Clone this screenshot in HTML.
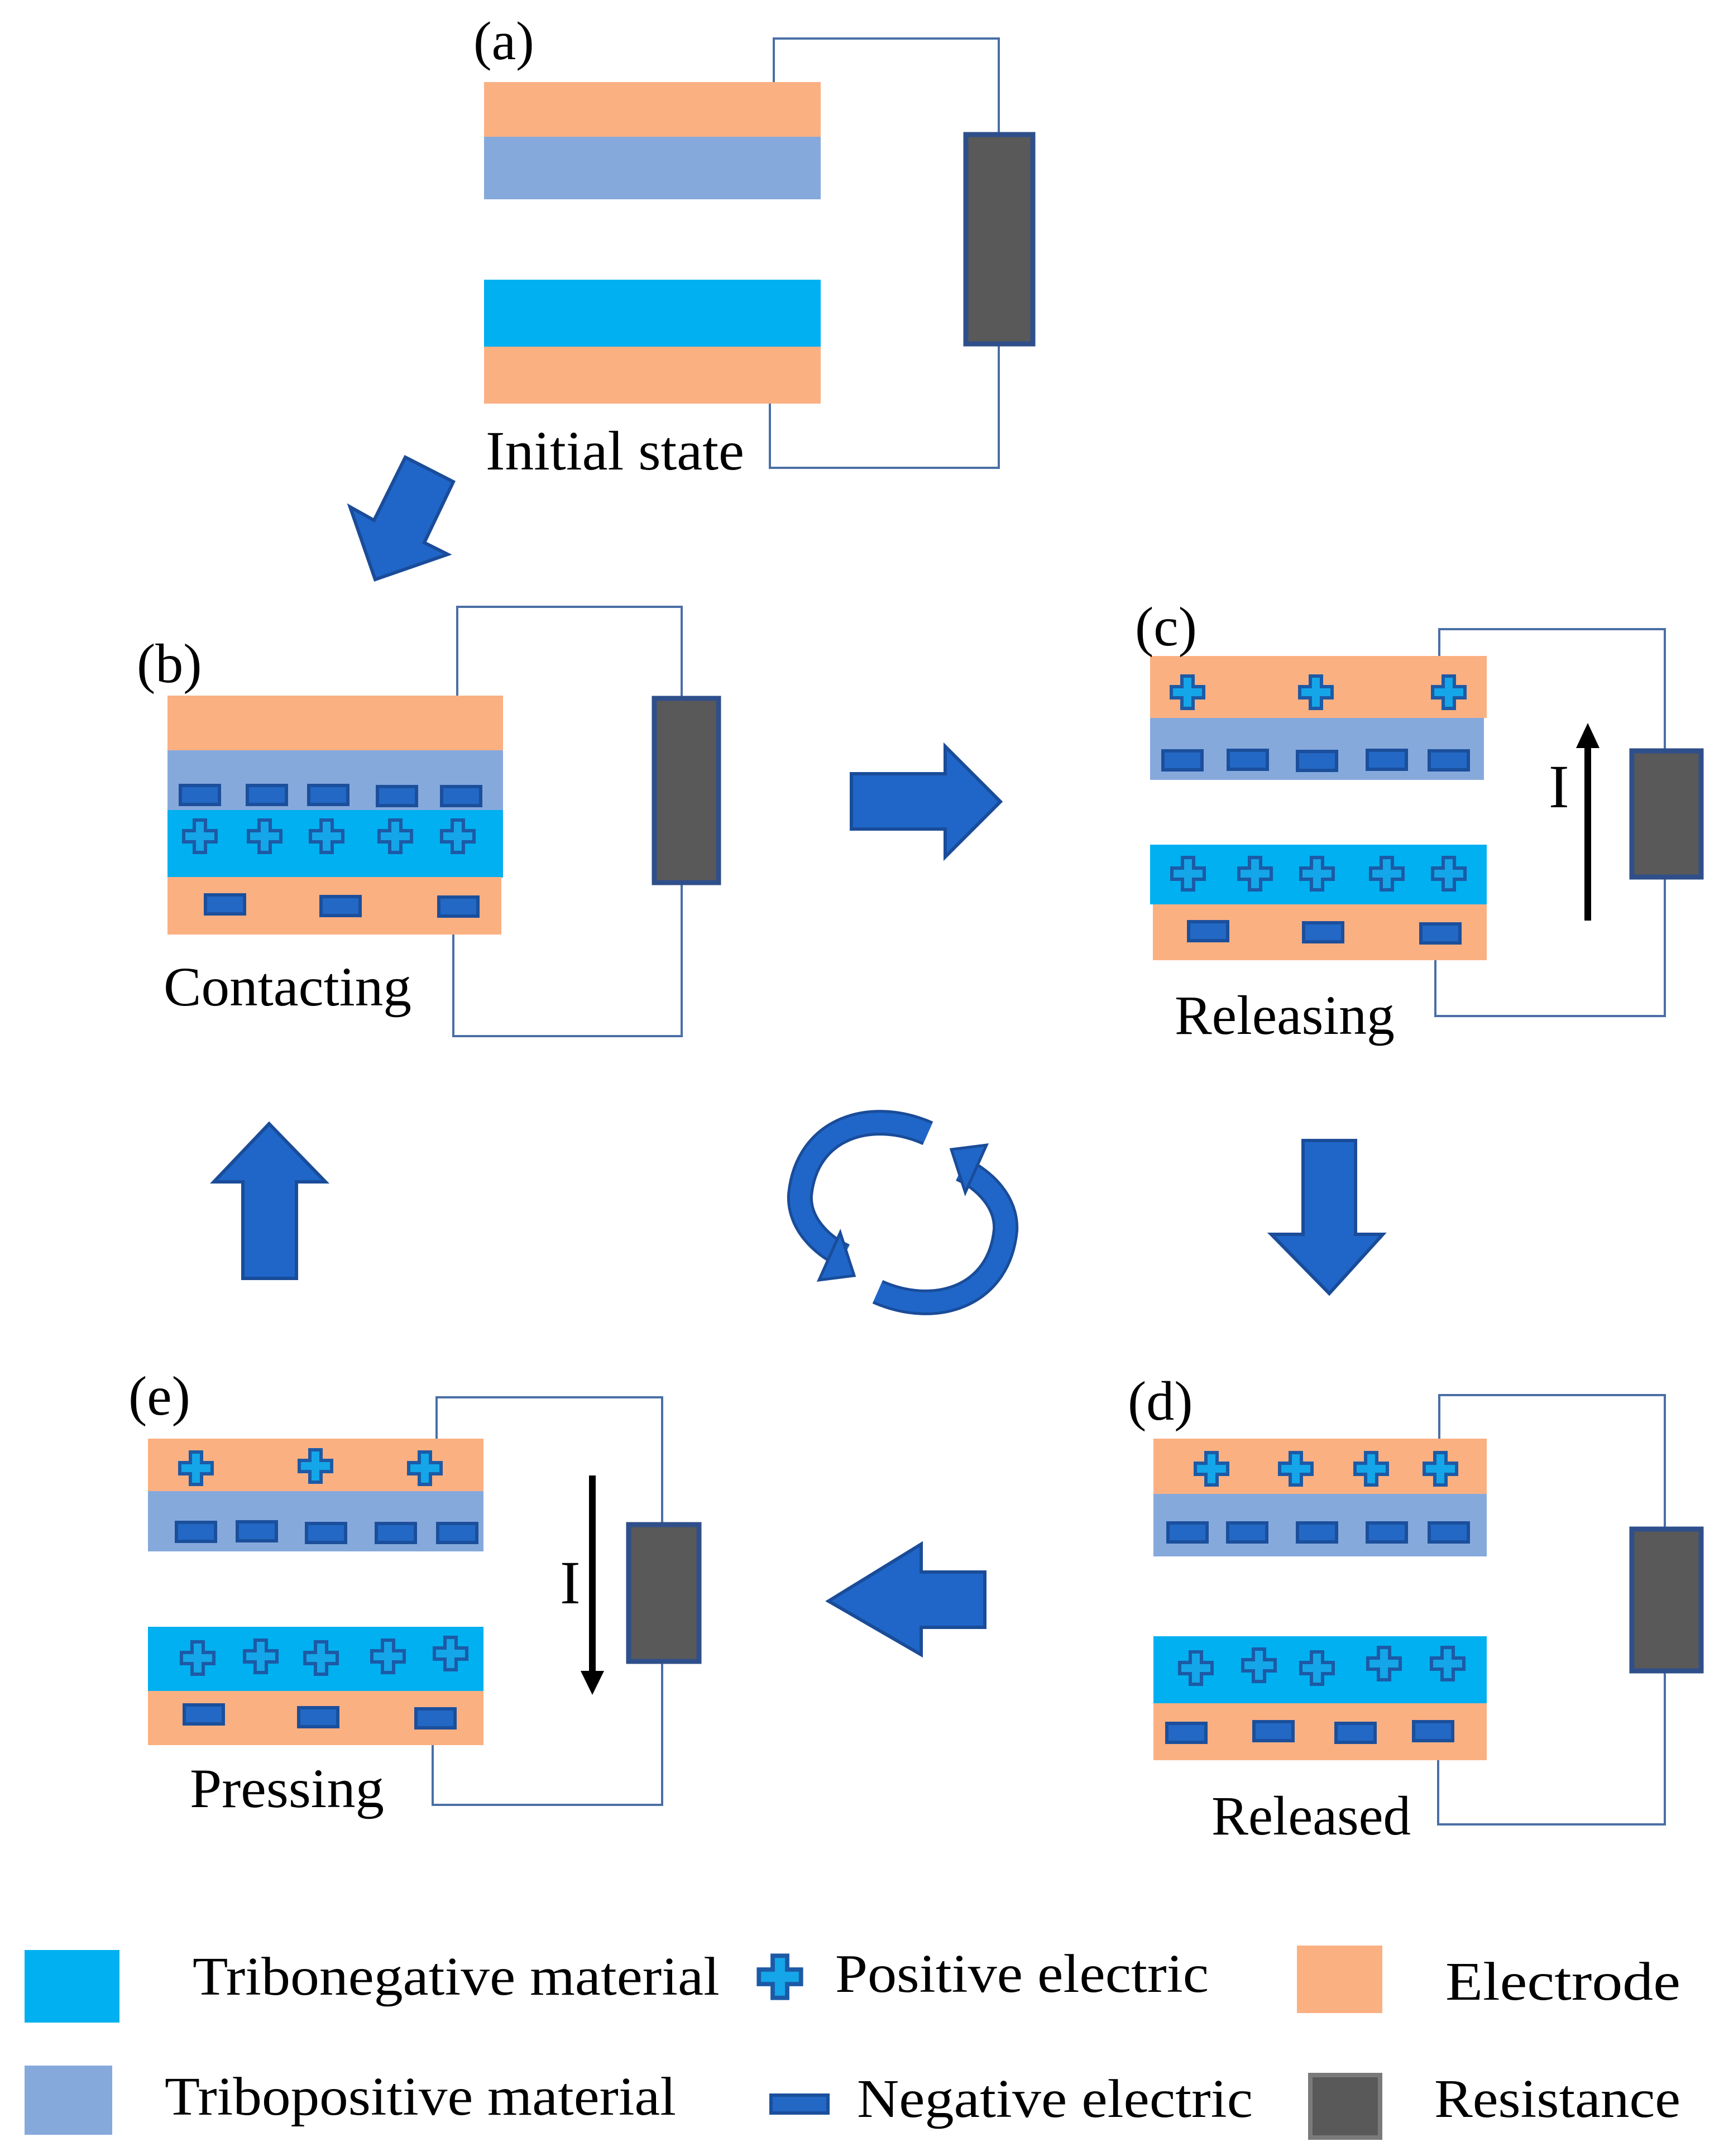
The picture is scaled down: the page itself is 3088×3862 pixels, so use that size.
<!DOCTYPE html>
<html><head><meta charset="utf-8"><style>
html,body{margin:0;padding:0;background:#fff}
svg{display:block}
text{font-family:"Liberation Serif",serif;fill:#000}
</style></head><body>
<svg width="3088" height="3862" viewBox="0 0 3088 3862" xmlns="http://www.w3.org/2000/svg">
<defs>
<g id="p"><path d="M-10,-29 H10 V-10 H29 V10 H10 V29 H-10 V10 H-29 V-10 H-10 Z" fill="#14a6e8" stroke="#1c5aa6" stroke-width="6"/></g>
<g id="m"><rect x="-35" y="-17" width="70" height="34" fill="#2368c4" stroke="#1b4f9c" stroke-width="6"/></g>
</defs>
<rect width="3088" height="3862" fill="#fff"/>
<g fill="none" stroke="#4a6fa5" stroke-width="4">
<polyline points="1386,147 1386,69 1789,69 1789,237"/>
<polyline points="1379,723 1379,838 1789,838 1789,620"/>
<polyline points="819,1246 819,1087 1221,1087 1221,1247"/>
<polyline points="812,1674 812,1856 1221,1856 1221,1585"/>
<polyline points="2578,1175 2578,1127 2982,1127 2982,1341"/>
<polyline points="2571,1720 2571,1820 2982,1820 2982,1575"/>
<polyline points="2578,2577 2578,2499 2982,2499 2982,2735"/>
<polyline points="2576,3153 2576,3268 2982,3268 2982,2997"/>
<polyline points="782,2577 782,2503 1186,2503 1186,2727"/>
<polyline points="775,3126 775,3233 1186,3233 1186,2980"/>
</g>
<g fill="#595959" stroke="#2f4f8a" stroke-width="9">
<rect x="1730" y="241" width="120" height="375"/>
<rect x="1172" y="1251" width="115" height="330"/>
<rect x="2923" y="1345" width="124" height="226"/>
<rect x="2923" y="2739" width="124" height="254"/>
<rect x="1126" y="2731" width="126" height="245"/>
</g>
<!-- panel a -->
<rect x="867" y="147" width="603" height="99" fill="#fbb082"/>
<rect x="867" y="245" width="603" height="112" fill="#86a9dc"/>
<rect x="867" y="501" width="603" height="120" fill="#00b0f0"/>
<rect x="867" y="621" width="603" height="102" fill="#fbb082"/>
<text x="848" y="106" font-size="98">(a)</text>
<text x="870" y="841" font-size="100" textLength="463" lengthAdjust="spacingAndGlyphs">Initial  state</text>
<!-- panel b -->
<rect x="300" y="1246" width="601" height="98" fill="#fbb082"/>
<rect x="300" y="1344" width="601" height="107" fill="#86a9dc"/>
<rect x="300" y="1451" width="601" height="121" fill="#00b0f0"/>
<rect x="300" y="1571" width="598" height="103" fill="#fbb082"/>
<use href="#m" x="358" y="1424"/><use href="#m" x="478" y="1424"/><use href="#m" x="588" y="1424"/><use href="#m" x="711" y="1426"/><use href="#m" x="826" y="1426"/>
<use href="#p" x="358" y="1498"/><use href="#p" x="474" y="1498"/><use href="#p" x="585" y="1498"/><use href="#p" x="708" y="1498"/><use href="#p" x="820" y="1498"/>
<use href="#m" x="403" y="1620"/><use href="#m" x="610" y="1623"/><use href="#m" x="821" y="1624"/>
<text x="245" y="1222" font-size="100">(b)</text>
<text x="293" y="1801" font-size="100" textLength="444" lengthAdjust="spacingAndGlyphs">Contacting</text>
<!-- panel c -->
<rect x="2060" y="1175" width="603" height="111" fill="#fbb082"/>
<rect x="2060" y="1286" width="598" height="111" fill="#86a9dc"/>
<rect x="2060" y="1513" width="603" height="107" fill="#00b0f0"/>
<rect x="2065" y="1620" width="598" height="100" fill="#fbb082"/>
<use href="#p" x="2127" y="1240"/><use href="#p" x="2357" y="1240"/><use href="#p" x="2595" y="1240"/>
<use href="#m" x="2118" y="1362"/><use href="#m" x="2235" y="1361"/><use href="#m" x="2359" y="1363"/><use href="#m" x="2484" y="1361"/><use href="#m" x="2595" y="1362"/>
<use href="#p" x="2128" y="1565"/><use href="#p" x="2248" y="1565"/><use href="#p" x="2359" y="1565"/><use href="#p" x="2484" y="1565"/><use href="#p" x="2595" y="1565"/>
<use href="#m" x="2164" y="1668"/><use href="#m" x="2370" y="1670"/><use href="#m" x="2580" y="1672"/>
<line x1="2844" y1="1649" x2="2844" y2="1332" stroke="#000" stroke-width="12"/>
<polygon points="2844,1295 2823,1340 2865,1340" fill="#000"/>
<text x="2774" y="1446" font-size="110">I</text>
<text x="2033" y="1156" font-size="100">(c)</text>
<text x="2104" y="1852" font-size="100" textLength="394" lengthAdjust="spacingAndGlyphs">Releasing</text>
<!-- panel d -->
<rect x="2066" y="2577" width="597" height="99" fill="#fbb082"/>
<rect x="2066" y="2676" width="597" height="112" fill="#86a9dc"/>
<rect x="2066" y="2931" width="597" height="121" fill="#00b0f0"/>
<rect x="2066" y="3051" width="597" height="102" fill="#fbb082"/>
<use href="#p" x="2170" y="2631"/><use href="#p" x="2321" y="2631"/><use href="#p" x="2456" y="2631"/><use href="#p" x="2580" y="2631"/>
<use href="#m" x="2127" y="2745"/><use href="#m" x="2234" y="2745"/><use href="#m" x="2359" y="2745"/><use href="#m" x="2484" y="2745"/><use href="#m" x="2595" y="2745"/>
<use href="#p" x="2142" y="2988"/><use href="#p" x="2255" y="2983"/><use href="#p" x="2359" y="2988"/><use href="#p" x="2479" y="2980"/><use href="#p" x="2593" y="2980"/>
<use href="#m" x="2125" y="3104"/><use href="#m" x="2281" y="3101"/><use href="#m" x="2428" y="3104"/><use href="#m" x="2567" y="3101"/>
<text x="2020" y="2543" font-size="100">(d)</text>
<text x="2170" y="3286" font-size="100" textLength="357" lengthAdjust="spacingAndGlyphs">Released</text>
<!-- panel e -->
<rect x="265" y="2577" width="601" height="95" fill="#fbb082"/>
<rect x="265" y="2671" width="601" height="108" fill="#86a9dc"/>
<rect x="265" y="2914" width="601" height="116" fill="#00b0f0"/>
<rect x="265" y="3029" width="601" height="97" fill="#fbb082"/>
<use href="#p" x="351" y="2630"/><use href="#p" x="565" y="2626"/><use href="#p" x="761" y="2630"/>
<use href="#m" x="351" y="2744"/><use href="#m" x="460" y="2743"/><use href="#m" x="584" y="2746"/><use href="#m" x="709" y="2746"/><use href="#m" x="819" y="2746"/>
<use href="#p" x="354" y="2970"/><use href="#p" x="467" y="2967"/><use href="#p" x="575" y="2970"/><use href="#p" x="695" y="2967"/><use href="#p" x="807" y="2962"/>
<use href="#m" x="365" y="3071"/><use href="#m" x="570" y="3076"/><use href="#m" x="780" y="3078"/>
<line x1="1061" y1="2643" x2="1061" y2="3000" stroke="#000" stroke-width="12"/>
<polygon points="1061,3036 1040,2993 1082,2993" fill="#000"/>
<text x="1003" y="2872" font-size="110">I</text>
<text x="230" y="2534" font-size="100">(e)</text>
<text x="340" y="3237" font-size="100" textLength="348" lengthAdjust="spacingAndGlyphs">Pressing</text>
<!-- big arrows -->
<g fill="#1f66c8" stroke="#1a4c99" stroke-width="6" stroke-linejoin="miter">
<polygon points="726,819 812,863 760,972 802,993 672,1038 627,908 670,932"/>
<polygon points="1525,1386 1693,1386 1693,1337 1792,1436 1693,1535 1693,1485 1525,1485"/>
<polygon points="2334,2043 2428,2043 2428,2211 2477,2211 2381,2317 2277,2211 2334,2211"/>
<polygon points="1764,2816 1650,2816 1650,2766 1484,2868 1650,2964 1650,2915 1764,2915"/>
<polygon points="435,2290 531,2290 531,2117 583,2117 482,2013 383,2117 435,2117"/>
</g>
<!-- cycle -->
<g fill="none" stroke-linecap="butt">
<path d="M1662 2030 C1560 1985 1445 2020 1433 2140 C1430 2190 1470 2230 1512 2250" stroke="#1a4c99" stroke-width="46"/>
<path d="M1662 2030 C1560 1985 1445 2020 1433 2140 C1430 2190 1470 2230 1512 2250" stroke="#1f66c8" stroke-width="36"/>
<path d="M1572 2314 C1674 2359 1789 2324 1801 2204 C1804 2154 1764 2114 1722 2094" stroke="#1a4c99" stroke-width="46"/>
<path d="M1572 2314 C1674 2359 1789 2324 1801 2204 C1804 2154 1764 2114 1722 2094" stroke="#1f66c8" stroke-width="36"/>
</g>
<polygon points="1505,2208 1530,2285 1467,2293" fill="#1f66c8" stroke="#1a4c99" stroke-width="5"/>
<polygon points="1729,2136 1704,2059 1767,2051" fill="#1f66c8" stroke="#1a4c99" stroke-width="5"/>
<!-- legend -->
<rect x="44" y="3493" width="170" height="130" fill="#00b0f0"/>
<text x="345" y="3573" font-size="98" textLength="944" lengthAdjust="spacingAndGlyphs">Tribonegative material</text>
<g transform="translate(1397,3541) scale(1.3)"><path d="M-10,-29 H10 V-10 H29 V10 H10 V29 H-10 V10 H-29 V-10 H-10 Z" fill="#14a6e8" stroke="#1c5aa6" stroke-width="6"/></g>
<text x="1496" y="3568" font-size="98" textLength="669" lengthAdjust="spacingAndGlyphs">Positive electric</text>
<rect x="2323" y="3485" width="153" height="121" fill="#fbb082"/>
<text x="2589" y="3582" font-size="98" textLength="421" lengthAdjust="spacingAndGlyphs">Electrode</text>
<rect x="44" y="3700" width="157" height="124" fill="#86a9dc"/>
<text x="295" y="3788" font-size="98" textLength="916" lengthAdjust="spacingAndGlyphs">Tribopositive material</text>
<rect x="1381" y="3753" width="102" height="32" fill="#2368c4" stroke="#1b4f9c" stroke-width="6"/>
<text x="1535" y="3792" font-size="98" textLength="709" lengthAdjust="spacingAndGlyphs">Negative electric</text>
<rect x="2347" y="3717" width="125" height="112" fill="#595959" stroke="#7a7a7a" stroke-width="8"/>
<text x="2569" y="3792" font-size="98" textLength="441" lengthAdjust="spacingAndGlyphs">Resistance</text>
</svg>
</body></html>
